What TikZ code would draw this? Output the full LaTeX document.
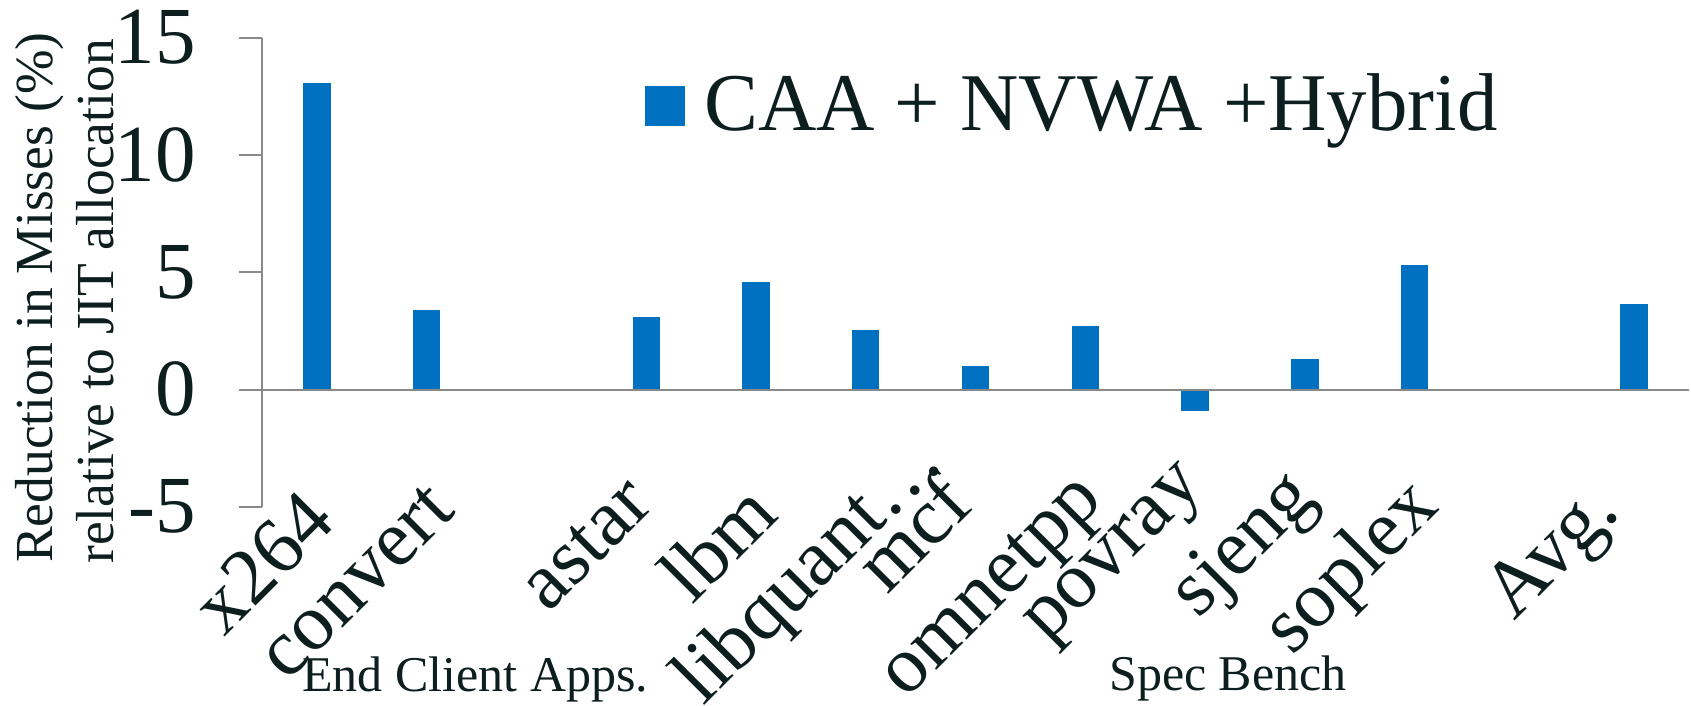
\documentclass[tikz,border=0pt]{standalone}
\usepackage{fontspec}
\setmainfont{Liberation Serif}
\definecolor{barblue}{RGB}{0,112,192}
\definecolor{axisgray}{RGB}{137,137,137}
\definecolor{txt}{RGB}{13,30,30}
\begin{document}
\begin{tikzpicture}[x=1pt,y=-1pt,
  bar/.style={fill=barblue, draw=none},
  axisline/.style={draw=axisgray, line width=2pt},
  ticklbl/.style={anchor=base east, text=txt, inner sep=0pt, font=\fontsize{81}{90}\selectfont},
  catlbl/.style={anchor=center, rotate=45, text=txt, inner sep=0pt, font=\fontsize{80}{88}\selectfont},
  grplbl/.style={anchor=base west, text=txt, inner sep=0pt, font=\fontsize{50}{56}\selectfont},
  ylbl/.style={anchor=base, rotate=90, text=txt, inner sep=0pt, font=\fontsize{53.5}{60}\selectfont},
]
\useasboundingbox[fill=white] (0,0) rectangle (1691,706);
% bars
\foreach \i/\t in {1/83, 2/309.5, 4/317.3, 5/281.7, 6/329.7, 7/366.3, 8/326.3, 9/411, 10/359, 11/265.3, 13/304}{
  \fill[bar] ({262+(\i-0.5)*109.77-13.7},389.5) rectangle ({262+(\i-0.5)*109.77+13.7},\t);
}
% axes
\draw[axisline] (262,37.7) -- (262,507);
\foreach \v/\y in {15/37.7,10/155,5/272.2,0/389.5,-5/506.8}{
  \draw[axisline] (239,\y) -- (262,\y);
  \node[ticklbl] at (196,\y+26) {\v};
}
\draw[axisline] (239,389.5) -- (1689,389.5);
% axis title
\node[ylbl] (yt1) at (52.3,297.5) {Reduction in Misses (\%)};
\node[ylbl] (yt2) at (113.3,301.5) {relative to JIT allocation};
% category labels
\node[catlbl] (c1) at (263,562) {x264};
\node[catlbl] (c2) at (357,582) {convert};
\node[catlbl] (c4) at (586.6,544.6) {astar};
\node[catlbl] (c5) at (717,542) {lbm};
\node[catlbl] (c6) at (811,572) {libquant…};
\node[catlbl] (c7) at (912,532) {mcf};
\node[catlbl] (c8) at (996,591) {omnetpp};
\node[catlbl] (c9) at (1119,558) {povray};
\node[catlbl] (c10) at (1245.5,547) {sjeng};
\node[catlbl] (c11) at (1353,569) {soplex};
\node[catlbl] (c13) at (1555.6,555) {Avg.};
% group labels
\node[grplbl] (g1) at (302,691) {End Client Apps.};
\node[grplbl] (g2) at (1109,690) {Spec Bench};
% legend
\fill[bar] (645,86) rectangle (685,126);
\node[anchor=base west, text=txt, inner sep=0pt, font=\fontsize{82}{90}\selectfont, xscale=0.985] (leg) at (704,131) {CAA + NVWA +Hybrid};
\end{tikzpicture}
\end{document}
